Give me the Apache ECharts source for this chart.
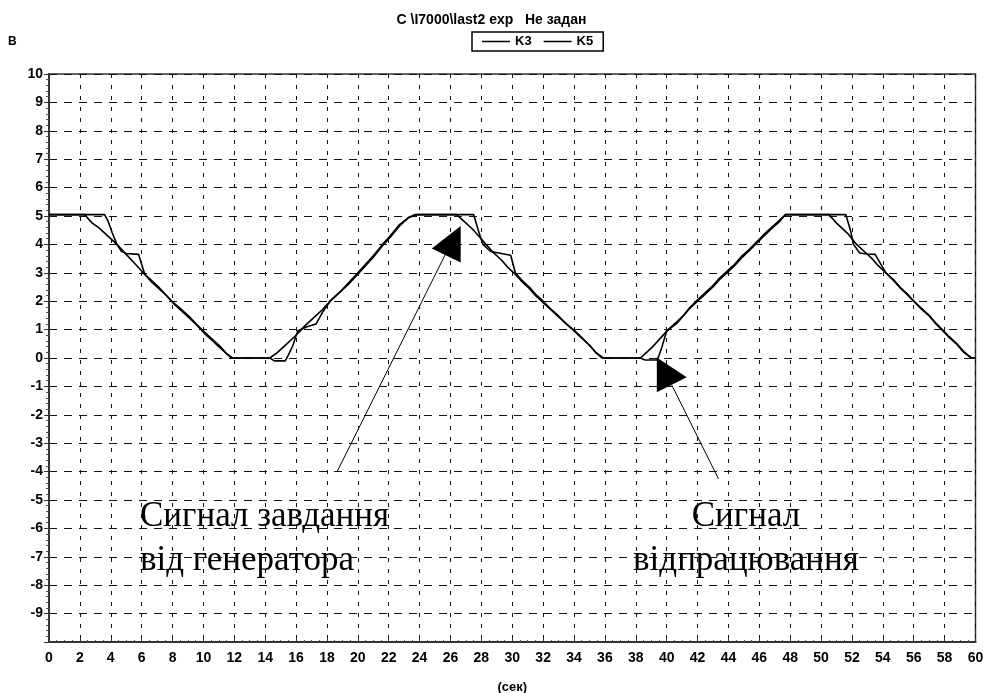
<!DOCTYPE html>
<html>
<head>
<meta charset="utf-8">
<script src="https://cdn.jsdelivr.net/npm/echarts@6/dist/echarts.min.js"></script>
<style>
  html, body { margin: 0; padding: 0; background: #fff; }
  #chart { width: 983px; height: 693px; }
</style>
</head>
<body>
<div id="chart"></div>
<script>
// K3 - generator setpoint, [time s, volts]
var k3 = [
  [0, 5.05], [2.3, 5.05], [2.8, 4.75], [3.2, 4.6], [3.8, 4.3], [4.4, 4.0], [5.0, 3.65], [5.6, 3.3],
  [6.1, 3.0], [6.6, 2.75], [7.1, 2.5], [7.6, 2.2], [8.05, 1.95], [8.6, 1.7], [9.1, 1.45],
  [9.6, 1.15], [10.0, 0.95], [10.6, 0.65], [11.1, 0.4], [11.5, 0.15], [11.8, 0.0],
  [14.3, 0.0], [14.8, 0.2], [15.4, 0.5], [16.0, 0.8], [16.6, 1.15], [17.2, 1.45], [17.7, 1.7],
  [18.2, 2.0], [18.8, 2.3], [19.4, 2.65], [20.0, 3.0], [20.5, 3.3], [21.0, 3.6], [21.6, 4.0],
  [22.1, 4.3], [22.7, 4.7], [23.3, 4.95], [23.9, 5.05],
  [26.4, 5.05], [26.9, 4.8], [27.4, 4.55], [27.9, 4.25], [28.3, 4.0], [28.8, 3.7], [29.3, 3.45],
  [29.7, 3.2], [30.1, 3.0], [30.6, 2.7], [31.1, 2.45], [31.5, 2.2], [32.0, 1.95], [32.5, 1.7],
  [33.0, 1.45], [33.5, 1.2], [34.0, 0.95], [34.5, 0.7], [35.0, 0.45], [35.4, 0.2], [35.8, 0.0],
  [38.3, 0.0], [38.7, 0.2], [39.1, 0.4], [39.6, 0.7], [40.1, 1.0], [40.6, 1.25], [41.1, 1.5],
  [41.5, 1.75], [42.0, 2.0], [42.5, 2.25], [43.0, 2.5], [43.4, 2.75], [43.9, 3.0], [44.4, 3.25],
  [44.8, 3.5], [45.3, 3.75], [45.75, 4.0], [46.3, 4.3], [46.8, 4.55], [47.3, 4.8], [47.7, 5.05],
  [50.5, 5.05], [51.0, 4.75], [51.7, 4.4], [52.3, 4.0], [52.8, 3.75], [53.3, 3.5], [53.7, 3.25],
  [54.2, 3.0], [54.7, 2.75], [55.1, 2.5], [55.6, 2.25], [56.0, 2.0], [56.5, 1.75], [57.0, 1.5],
  [57.4, 1.25], [57.85, 1.0], [58.3, 0.75], [58.8, 0.5], [59.2, 0.25], [59.7, 0.0], [60, 0.0]
];

// K5 - drive response, [time s, volts]
var k5 = [
  [0, 5.05], [3.6, 5.05], [3.8, 4.85], [4.1, 4.4], [4.4, 4.0], [4.7, 3.75], [5.0, 3.68],
  [5.8, 3.65], [6.2, 2.95], [6.6, 2.7], [7.1, 2.45], [7.6, 2.2], [8.1, 1.9], [8.6, 1.65],
  [9.1, 1.4], [9.6, 1.15], [10.1, 0.85], [10.6, 0.6], [11.1, 0.35], [11.5, 0.15], [11.9, 0.0],
  [14.3, 0.0], [14.6, -0.1], [15.3, -0.1], [15.5, 0.1], [15.8, 0.45], [16.1, 0.95], [16.7, 1.1],
  [17.3, 1.2], [17.7, 1.6], [18.2, 2.0], [18.8, 2.3], [19.4, 2.6], [20.0, 2.95], [20.5, 3.25],
  [21.0, 3.55], [21.6, 3.95], [22.1, 4.25], [22.7, 4.65], [23.3, 4.95], [23.7, 5.05],
  [27.5, 5.05], [27.8, 4.5], [28.1, 4.0], [28.6, 3.75], [29.9, 3.62], [30.2, 3.0], [30.6, 2.75],
  [31.1, 2.5], [31.5, 2.25], [32.0, 2.0], [32.5, 1.72], [33.0, 1.48], [33.5, 1.2], [34.0, 0.98],
  [34.5, 0.72], [35.0, 0.45], [35.4, 0.2], [35.9, 0.0],
  [38.3, 0.0], [38.6, -0.07], [39.4, -0.07], [39.7, 0.4], [40.0, 0.95], [40.7, 1.24], [41.1, 1.5],
  [41.5, 1.78], [42.0, 2.05], [42.5, 2.3], [43.0, 2.55], [43.4, 2.8], [43.9, 3.05], [44.4, 3.3],
  [44.8, 3.55], [45.3, 3.8], [45.75, 4.05], [46.3, 4.35], [46.8, 4.6], [47.3, 4.85], [47.7, 5.05],
  [51.6, 5.05], [51.9, 4.5], [52.1, 4.0], [52.5, 3.7], [53.0, 3.66], [53.5, 3.65], [54.2, 3.0],
  [54.7, 2.72], [55.1, 2.48], [55.6, 2.22], [56.0, 2.0], [56.5, 1.72], [57.0, 1.48], [57.4, 1.22],
  [57.85, 0.98], [58.3, 0.72], [58.8, 0.48], [59.2, 0.22], [59.75, 0.0], [60, 0.0]
];

var seriesNames = ["K3", "K5"];
var chartTitle = "C \\I7000\\last2 exp   Не задан";

// arrow annotations, anchored in data coords (t, V)
var arrow1 = { tri: [[24.79, 3.86], [26.66, 4.65], [26.66, 3.36]], line: [[25.65, 3.63], [18.65, -4.01]] };
var arrow2 = { tri: [[39.36, 0.02], [39.36, -1.21], [41.3, -0.68]], line: [[40.33, -0.95], [43.36, -4.26]] };

var myChart = echarts.init(document.getElementById("chart"));

var gridDash = { color: "#111", width: 1 };

myChart.setOption({
  animation: false,
  backgroundColor: "#fff",
  title: {
    text: chartTitle,
    left: "center",
    top: 8,
    textStyle: { fontFamily: "Arial", fontSize: 14, fontWeight: "bold", color: "#000" }
  },
  legend: {
    data: seriesNames,
    left: 472,
    top: 32,
    padding: [3, 10],
    itemGap: 12,
    icon: "rect",
    itemWidth: 28,
    itemHeight: 1.5,
    borderColor: "#000",
    borderWidth: 1.5,
    textStyle: { fontFamily: "Arial", fontSize: 13, fontWeight: "bold", color: "#000" }
  },
  grid: {
    left: 49,
    right: 7.5,
    top: 74,
    bottom: 51,
    outerBoundsMode: "none",
    containLabel: false,
    show: true,
    borderColor: "#333",
    borderWidth: 1.5
  },
  xAxis: {
    type: "value",
    min: 0,
    max: 60,
    interval: 2,
    name: "(сек)",
    nameLocation: "middle",
    nameGap: 39,
    nameTextStyle: { fontFamily: "Arial", fontSize: 13, fontWeight: "bold", color: "#000" },
    axisLine: { onZero: false, lineStyle: { color: "#333", width: 2 } },
    axisTick: { inside: true, length: 4, lineStyle: { color: "#333" } },
    minorTick: { show: true, splitNumber: 4, length: 2, lineStyle: { color: "#555" } },
    axisLabel: { fontFamily: "Arial", fontSize: 14, fontWeight: "bold", color: "#000", margin: 9 },
    splitLine: { show: true, lineStyle: Object.assign({ type: [4, 7] }, gridDash) }
  },
  yAxis: {
    type: "value",
    min: -10,
    max: 10,
    interval: 1,
    axisLine: { show: true, onZero: false, lineStyle: { color: "#333", width: 2 } },
    axisTick: { show: true, length: 5, lineStyle: { color: "#333" } },
    minorTick: { show: true, splitNumber: 5, length: 3, lineStyle: { color: "#555" } },
    axisLabel: {
      fontFamily: "Arial",
      fontSize: 14,
      fontWeight: "bold",
      color: "#000",
      margin: 6,
      formatter: function (v) { return v === -10 ? "" : v; }
    },
    splitLine: { show: true, lineStyle: Object.assign({ type: [8, 7] }, gridDash) }
  },
  series: [
    {
      name: seriesNames[0],
      type: "line",
      data: k3,
      symbol: "none",
      lineStyle: { color: "#000", width: 1.6 },
      itemStyle: { color: "#000" }
    },
    {
      name: seriesNames[1],
      type: "line",
      data: k5,
      symbol: "none",
      lineStyle: { color: "#000", width: 1.6 },
      itemStyle: { color: "#000" }
    }
  ]
});

function px(p) {
  return myChart.convertToPixel({ gridIndex: 0 }, p);
}

function arrowGraphics(a) {
  var l0 = px(a.line[0]), l1 = px(a.line[1]);
  return [
    { type: "line", shape: { x1: l0[0], y1: l0[1], x2: l1[0], y2: l1[1] }, style: { stroke: "#000", lineWidth: 1 }, z: 100 },
    { type: "polygon", shape: { points: a.tri.map(px) }, style: { fill: "#000" }, z: 100 }
  ];
}

var serif = "35px 'Liberation Serif', 'DejaVu Serif', serif";
function label(text, x, y, align) {
  return { type: "text", x: x, y: y, z: 100, style: { text: text, font: serif, fill: "#000", align: align, verticalAlign: "middle" } };
}

myChart.setOption({
  graphic: [].concat(
    arrowGraphics(arrow1),
    arrowGraphics(arrow2),
    [
      label("Сигнал завдання", 140, 517, "left"),
      label("від генератора", 140, 561, "left"),
      label("Сигнал", 746, 517, "center"),
      label("відпрацювання", 746, 561, "center"),
      { type: "text", x: 8, y: 36, style: { text: "B", font: "bold 12px Arial", fill: "#000" } }
    ]
  )
});
</script>
</body>
</html>
